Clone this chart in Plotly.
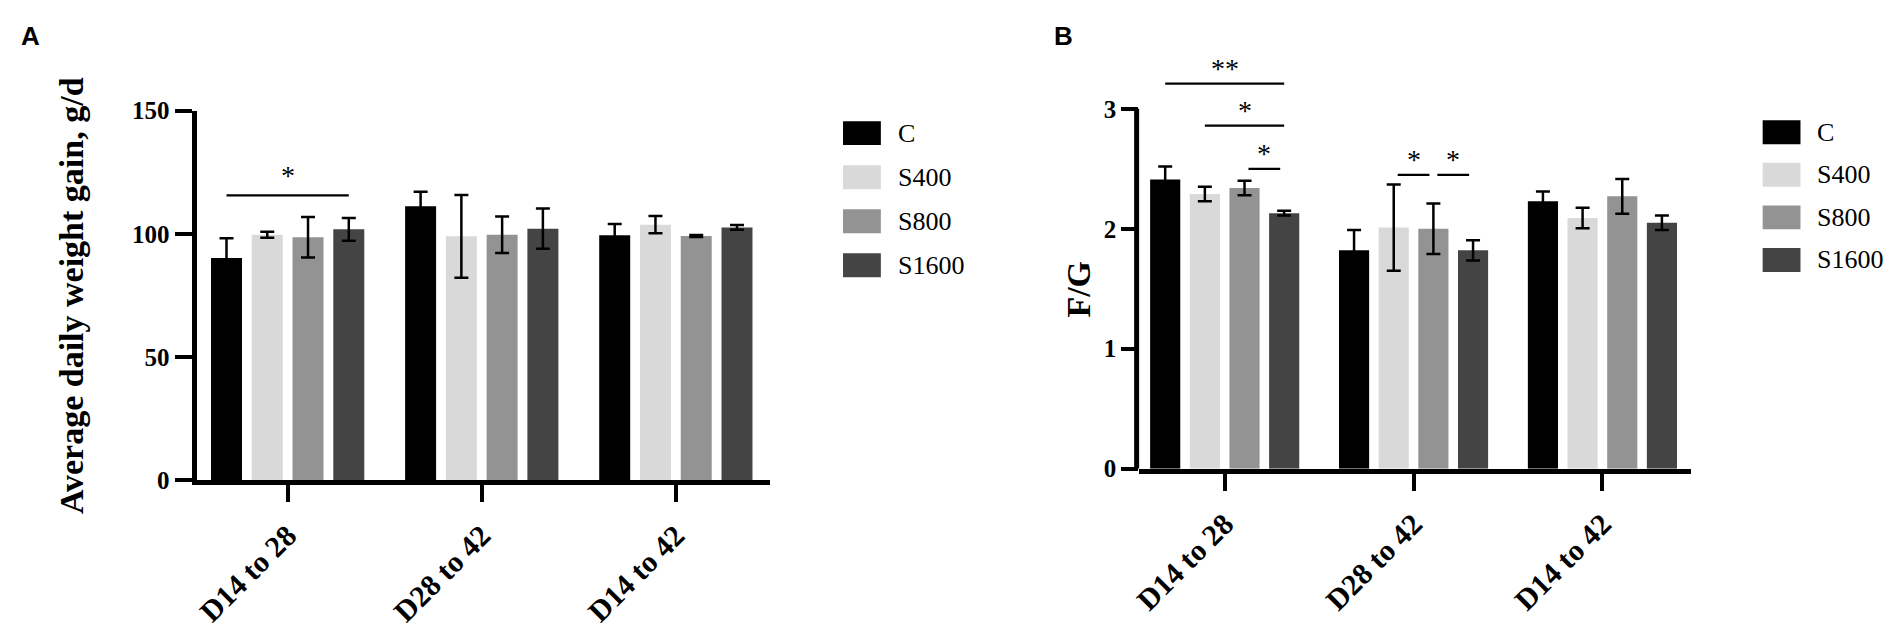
import plotly.graph_objects as go

# ---------------- data ----------------
categories = ["D14 to 28", "D28 to 42", "D14 to 42"]
groups = ["C", "S400", "S800", "S1600"]
colors = ["#000000", "#d9d9d9", "#939393", "#444444"]

# Panel A: average daily weight gain, g/d (mean, SD)
adg_C = [90.2, 111.2, 99.4]
adg_S400 = [99.6, 99.0, 103.7]
adg_S800 = [98.6, 99.6, 99.1]
adg_S1600 = [101.8, 102.1, 102.6]
adg_sd_C = [8.0, 5.9, 4.6]
adg_sd_S400 = [1.2, 16.8, 3.5]
adg_sd_S800 = [8.2, 7.4, 0.4]
adg_sd_S1600 = [4.6, 8.2, 1.0]

# Panel B: F/G (mean, SD)
fg_C = [2.41, 1.82, 2.23]
fg_S400 = [2.29, 2.01, 2.09]
fg_S800 = [2.34, 2.00, 2.27]
fg_S1600 = [2.13, 1.82, 2.05]
fg_sd_C = [0.11, 0.17, 0.08]
fg_sd_S400 = [0.06, 0.36, 0.085]
fg_sd_S800 = [0.06, 0.21, 0.145]
fg_sd_S1600 = [0.02, 0.085, 0.06]

# significance brackets: (category index, first group, last group, y value, label)
sig_A = [(0, 0, 3, 115.6, "*")]
sig_B = [(0, 0, 3, 3.21, "**"), (0, 1, 3, 2.86, "*"), (0, 2, 3, 2.50, "*"),
         (1, 1, 2, 2.45, "*"), (1, 2, 3, 2.45, "*")]

adg_means = [adg_C, adg_S400, adg_S800, adg_S1600]
adg_sds = [adg_sd_C, adg_sd_S400, adg_sd_S800, adg_sd_S1600]
fg_means = [fg_C, fg_S400, fg_S800, fg_S1600]
fg_sds = [fg_sd_C, fg_sd_S400, fg_sd_S800, fg_sd_S1600]

# ---------------- layout constants ----------------
W, H = 1902, 631
BARGAP = 0.16
BARGROUPGAP = 0.24
SERIF = "Liberation Serif, Times New Roman, serif"
SANS = "Liberation Sans, Arial, sans-serif"


def xd(px):
    return px / W


def yd(px):
    return 1 - px / H


xpos = list(range(len(categories)))
fig = go.Figure()

for i, g in enumerate(groups):
    fig.add_trace(go.Bar(
        x=xpos, y=adg_means[i], name=g, marker_color=colors[i],
        marker_line_width=0,
        error_y=dict(type="data", array=adg_sds[i], color="black", thickness=2.5, width=7),
        xaxis="x", yaxis="y", showlegend=False, offsetgroup=str(i)))
    fig.add_trace(go.Bar(
        x=xpos, y=fg_means[i], name=g, marker_color=colors[i],
        marker_line_width=0,
        error_y=dict(type="data", array=fg_sds[i], color="black", thickness=2.5, width=7),
        xaxis="x2", yaxis="y2", showlegend=False, offsetgroup=str(i)))

slot = (1 - BARGAP) / len(groups)


def bar_center(cat, gi):
    return cat + (gi - (len(groups) - 1) / 2) * slot


shapes = []
annotations = []


def add_sig(sigs, xref, yref, star_shift):
    for cat, g0, g1, yv, lab in sigs:
        x0, x1 = bar_center(cat, g0), bar_center(cat, g1)
        if g1 - g0 == 1:          # short brackets between neighbours leave a small gap
            x0, x1 = x0 + 0.1 * slot, x1 - 0.1 * slot
        shapes.append(dict(type="line", xref=xref, yref=yref,
                           x0=x0, x1=x1, y0=yv, y1=yv,
                           line=dict(color="black", width=2.2)))
        annotations.append(dict(x=(x0 + x1) / 2, y=yv,
                                xref=xref, yref=yref, text=lab, showarrow=False,
                                yanchor="bottom", yshift=star_shift,
                                font=dict(family=SERIF, size=28, color="black")))


add_sig(sig_A, "x", "y", 2)
add_sig(sig_B, "x2", "y2", -2)

# y-axis line of panel B (only from 0 to 3)
shapes.append(dict(type="line", xref="x2 domain", yref="y2", xsizemode="pixel", xanchor=0,
                   x0=-2.5, x1=-2.5, y0=0, y1=3, line=dict(color="black", width=5)))


# legends (drawn manually to match the large swatches)
def add_legend(sq_left, text_left, row_centers):
    for i, g in enumerate(groups):
        yc = row_centers[i]
        shapes.append(dict(type="rect", xref="paper", yref="paper",
                           x0=xd(sq_left), x1=xd(sq_left + 38), y0=yd(yc + 12.5), y1=yd(yc - 12.5),
                           fillcolor=colors[i], line=dict(width=0)))
        annotations.append(dict(x=xd(text_left), y=yd(yc), xref="paper", yref="paper",
                                text=g, showarrow=False, xanchor="left", yanchor="middle",
                                font=dict(family=SERIF, size=26, color="black")))


add_legend(838, 891, [125.5, 171.5, 217.5, 263.5])
add_legend(1762, 1815, [124.5, 169, 213.5, 258])

# axis titles and panel letters
annotations += [
    dict(x=xd(63), y=yd(295), xref="paper", yref="paper", text="<b>Average daily weight gain, g/d</b>",
         textangle=-90, showarrow=False, xanchor="center", yanchor="middle",
         font=dict(family=SERIF, size=34, color="black")),
    dict(x=xd(1075), y=yd(288), xref="paper", yref="paper", text="<b>F/G</b>",
         textangle=-90, showarrow=False, xanchor="center", yanchor="middle",
         font=dict(family=SERIF, size=34, color="black")),
    dict(x=xd(22), y=yd(24), xref="paper", yref="paper", text="<b>A</b>", showarrow=False,
         xanchor="center", yanchor="middle", font=dict(family=SANS, size=26, color="black")),
    dict(x=xd(1060), y=yd(24), xref="paper", yref="paper", text="<b>B</b>", showarrow=False,
         xanchor="center", yanchor="middle", font=dict(family=SANS, size=26, color="black")),
]

common_x = dict(tickmode="array", tickvals=xpos, ticktext=[f"<b>{c}</b>" for c in categories],
                tickangle=-45, showline=True, linewidth=5, linecolor="black",
                ticks="outside", ticklen=17, tickwidth=4, tickcolor="black",
                showgrid=False, zeroline=False, ticklabelstandoff=4,
                tickfont=dict(family=SERIF, size=30, color="black"))
common_y = dict(ticks="outside", ticklen=17, tickwidth=4, tickcolor="black",
                showgrid=False, zeroline=False,
                tickfont=dict(family=SERIF, size=25, color="black"))

fig.update_layout(
    width=W, height=H, margin=dict(l=0, r=0, t=0, b=0),
    paper_bgcolor="white", plot_bgcolor="white",
    barmode="group", bargap=BARGAP, bargroupgap=BARGROUPGAP,
    showlegend=False,
    xaxis=dict(domain=[xd(188.5), xd(765)], range=[-0.469, 2.487], anchor="y", **common_x),
    yaxis=dict(domain=[yd(488), yd(102)], range=[0, 150], anchor="x",
               tickvals=[0, 50, 100, 150], ticktext=["<b>0</b>", "<b>50</b>", "<b>100</b>", "<b>150</b>"],
               showline=True, linewidth=5, linecolor="black", **common_y),
    xaxis2=dict(domain=[xd(1135.5), xd(1690)], range=[-0.453, 2.469], anchor="y2", **common_x),
    yaxis2=dict(domain=[yd(476), yd(476 - 3.5 * 125.3)], range=[0, 3.5], anchor="x2",
                tickvals=[0, 1, 2, 3], ticktext=["<b>0</b>", "<b>1</b>", "<b>2</b>", "<b>3</b>"],
                showline=False, **common_y),
    shapes=shapes, annotations=annotations,
)

fig.write_html("out.html", config={"displayModeBar": False},
               post_script="document.body.style.margin='0';document.body.style.overflow='hidden';")
